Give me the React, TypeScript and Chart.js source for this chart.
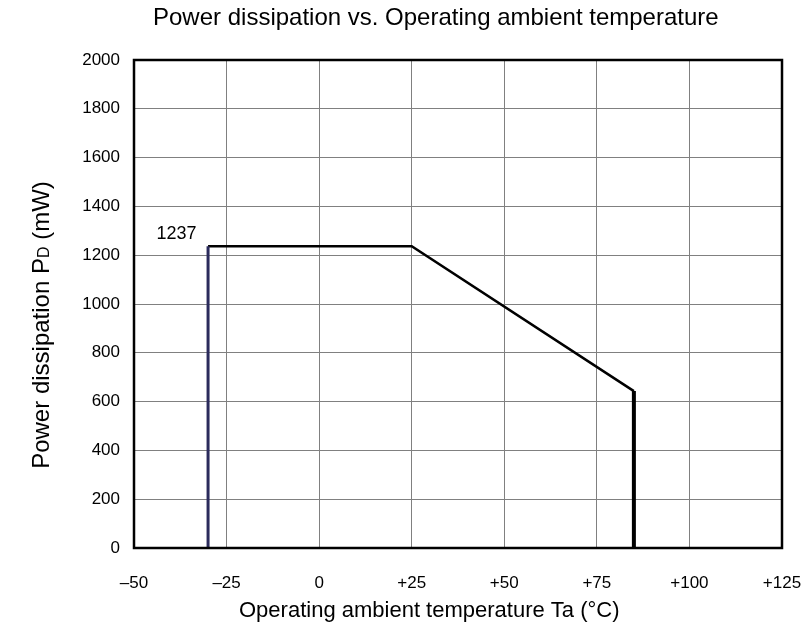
import React, { useEffect, useRef } from "react";
import { Chart, registerables } from "chart.js";

Chart.register(...registerables);

const titleText = "Power dissipation vs. Operating ambient temperature";
const xTitle = "Operating ambient temperature Ta (°C)";
const yTitleMain = "Power dissipation P";
const yTitleSub = "D";
const yTitleTail = " (mW)";

const xTickValues = [-50, -25, 0, 25, 50, 75, 100, 125];
const xTickLabels = ["\u201350", "\u201325", "0", "+25", "+50", "+75", "+100", "+125"];
const yTickValues = [0, 200, 400, 600, 800, 1000, 1200, 1400, 1600, 1800, 2000];

const leftEdgeX = [-30, -30];
const leftEdgeY = [0, 1237];
const curveX = [-30, 25, 85];
const curveY = [1237, 1237, 643];
const rightEdgeX = [85, 85];
const rightEdgeY = [643, 0];

const annotationText = "1237";
const annotationX = -38.5;
const annotationY = 1237;

const FONT = "'Liberation Sans', Arial, Helvetica, sans-serif";

const toPts = (xs: number[], ys: number[]) => xs.map((x, i) => ({ x, y: ys[i] }));

export default function App() {
  const ref = useRef<HTMLCanvasElement | null>(null);

  useEffect(() => {
    if (!ref.current) return;
    const textPlugin = {
      id: "texts",
      afterDraw(chart: any) {
        const ctx = chart.ctx;
        const a = chart.chartArea;
        const xs = chart.scales.x;
        const ys = chart.scales.y;
        ctx.save();
        ctx.strokeStyle = "#000";
        ctx.lineWidth = 2.5;
        ctx.strokeRect(a.left, a.top, a.right - a.left, a.bottom - a.top);
        ctx.fillStyle = "#000";
        // title
        ctx.font = `24px ${FONT}`;
        ctx.textAlign = "left";
        ctx.textBaseline = "alphabetic";
        ctx.fillText(titleText, 153, 25);
        // x title
        ctx.font = `22px ${FONT}`;
        ctx.textAlign = "left";
        ctx.fillText(xTitle, 239, 617);
        // annotation
        ctx.font = `18px ${FONT}`;
        ctx.textAlign = "center";
        ctx.fillText(annotationText, xs.getPixelForValue(annotationX), ys.getPixelForValue(annotationY) - 7);
        // y title
        ctx.translate(49, 325);
        ctx.rotate(-Math.PI / 2);
        ctx.textBaseline = "alphabetic";
        const big = `24px ${FONT}`;
        const small = `16px ${FONT}`;
        ctx.font = big;
        const w1 = ctx.measureText(yTitleMain).width;
        const w3 = ctx.measureText(yTitleTail).width;
        ctx.font = small;
        const w2 = ctx.measureText(yTitleSub).width;
        const total = w1 + w2 + w3;
        let x0 = -total / 2;
        ctx.textAlign = "left";
        ctx.font = big;
        ctx.fillText(yTitleMain, x0, 0);
        x0 += w1;
        ctx.font = small;
        ctx.fillText(yTitleSub, x0, 0);
        x0 += w2;
        ctx.font = big;
        ctx.fillText(yTitleTail, x0, 0);
        ctx.restore();
      },
    };

    const chart = new Chart(ref.current, {
      type: "scatter",
      data: {
        datasets: [
          {
            data: toPts(leftEdgeX, leftEdgeY),
            showLine: true,
            borderColor: "#2b2b5c",
            borderWidth: 3,
            pointRadius: 0,
          },
          {
            data: toPts(curveX, curveY),
            showLine: true,
            borderColor: "#000",
            borderWidth: 2.5,
            pointRadius: 0,
            borderJoinStyle: "miter",
          },
          {
            data: toPts(rightEdgeX, rightEdgeY),
            showLine: true,
            borderColor: "#000",
            borderWidth: 4,
            pointRadius: 0,
          },
        ],
      },
      plugins: [textPlugin],
      options: {
        animation: false,
        responsive: false,
        layout: { padding: { top: 60, right: 22, left: 0, bottom: 0 } },
        plugins: { legend: { display: false }, tooltip: { enabled: false }, title: { display: false } },
        scales: {
          x: {
            type: "linear",
            min: -50,
            max: 125,
            afterBuildTicks: (s: any) => {
              s.ticks = xTickValues.map((v) => ({ value: v }));
            },
            afterFit: (s: any) => {
              s.height = 81;
              s.paddingLeft = 0;
              s.paddingRight = 0;
            },
            grid: { color: "#808080", lineWidth: 1, drawTicks: false },
            border: { display: false },
            ticks: {
              padding: 25,
              color: "#000",
              font: { family: FONT, size: 17 },
              callback: (v: any) => {
                const i = xTickValues.indexOf(Number(v));
                return i >= 0 ? xTickLabels[i] : "";
              },
              maxRotation: 0,
            },
          },
          y: {
            type: "linear",
            min: 0,
            max: 2000,
            afterBuildTicks: (s: any) => {
              s.ticks = yTickValues.map((v) => ({ value: v }));
            },
            afterFit: (s: any) => {
              s.width = 134;
              s.paddingTop = 0;
              s.paddingBottom = 0;
            },
            grid: { color: "#808080", lineWidth: 1, drawTicks: false },
            border: { display: false },
            ticks: {
              padding: 14,
              color: "#000",
              font: { family: FONT, size: 17 },
              callback: (v: any) => String(v),
            },
          },
        },
      },
    } as any);
    return () => chart.destroy();
  }, []);

  return (
    <div style={{ position: "fixed", left: 0, top: 0, width: 804, height: 629, background: "#fff" }}>
      <canvas ref={ref} width={804} height={629} />
    </div>
  );
}
